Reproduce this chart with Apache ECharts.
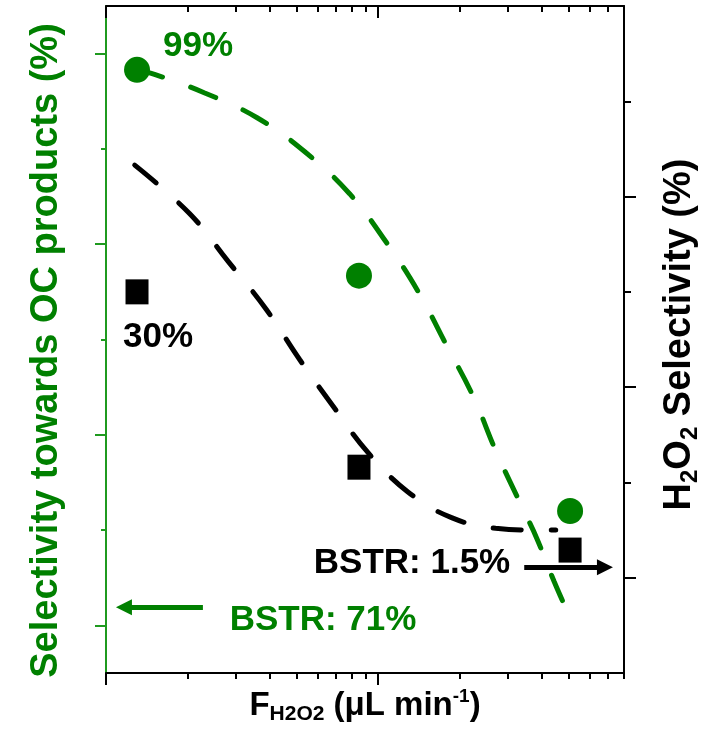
<!DOCTYPE html>
<html>
<head>
<meta charset="utf-8">
<script src="https://cdn.jsdelivr.net/npm/echarts@6/dist/echarts.min.js"></script>
<style>
  html, body { margin: 0; padding: 0; background: #fff; }
  #chart { width: 720px; height: 729px; }
</style>
</head>
<body>
<div id="chart"></div>
<script>
// measured points (x on log scale)
var flowRate = [1.3, 8.5, 50.7]
var ocSelectivity = [98.3, 76.7, 52.0]     // left axis, green circles
var h2o2Selectivity = [30.0, 11.6, 2.9]    // right axis, black squares

// dashed guide curves
var ocFitX = [1.294, 1.517, 2.294, 3.578, 5.377, 7.85, 10.71, 14.04, 17.82, 22.36, 27.15, 33.8, 38.3, 44.3, 50.7]
var ocFitY = [98.3, 97.8, 95.9, 93.3, 89.7, 85.3, 80.2, 75.0, 69.4, 64.0, 58.2, 52.4, 49.1, 44.6, 40.8]
var h2o2FitX = [1.275, 2.031, 2.81, 3.87, 5.145, 6.83, 9.13, 12.86, 18.6, 27.0, 40.3, 44.9]
var h2o2FitY = [43.3, 38.2, 33.2, 28.2, 22.9, 18.0, 13.2, 9.0, 6.3, 5.2, 5.0, 5.0]

// tick positions
var xMajorTicks = [1, 10]
var xMinorTicks = [2, 3, 4, 5, 6, 7, 8, 9, 20, 30, 40, 50, 60, 70, 80]
var leftMajorTicks = [40, 60, 80, 100]
var leftMinorTicks = [50, 70, 90]
var rightMajorTicks = [0, 20, 40]
var rightMinorTicks = [10, 30, 50]

var green = '#008000'
var axisGreen = '#1f9a1f'
var fontFamily = '"Liberation Sans", Arial, sans-serif'

function pairs(xs, ys) {
  return xs.map(function (x, i) { return [x, ys[i]] })
}

function xAxisDef(pos, ticks, len, inside, showLine, withName) {
  var ax = {
    type: 'log',
    logBase: 10,
    min: 1,
    max: 80,
    position: pos,
    axisLine: { show: showLine, onZero: false, lineStyle: { color: '#000', width: 2 } },
    axisTick: { show: true, customValues: ticks, length: len, inside: inside, lineStyle: { color: '#000', width: 2 } },
    minorTick: { show: false },
    axisLabel: { show: false },
    splitLine: { show: false }
  }
  if (withName) {
    ax.name = '{m|F}{s|H2O2}{m| (μL min}{u|-1}{m|)}'
    ax.nameLocation = 'middle'
    ax.nameGap = 14
    ax.nameTextStyle = {
      rich: {
        m: { fontSize: 33, fontWeight: 'bold', fontFamily: fontFamily, color: '#000', lineHeight: 34, verticalAlign: 'middle' },
        s: { fontSize: 21, fontWeight: 'bold', fontFamily: fontFamily, color: '#000', lineHeight: 38, verticalAlign: 'bottom' },
        u: { fontSize: 19, fontWeight: 'bold', fontFamily: fontFamily, color: '#000', lineHeight: 28, verticalAlign: 'top' }
      }
    }
  }
  return ax
}

function yAxisDef(pos, min, max, ticks, len, color, showLine) {
  return {
    type: 'value',
    min: min,
    max: max,
    position: pos,
    axisLine: { show: showLine, onZero: false, lineStyle: { color: color, width: 2 } },
    axisTick: { show: true, customValues: ticks, length: len, lineStyle: { color: color, width: 2 } },
    axisLabel: { show: false },
    splitLine: { show: false }
  }
}

var yLeft = yAxisDef('left', 35, 105, leftMajorTicks, 11, axisGreen, true)
yLeft.name = 'Selectivity towards OC products (%)'
yLeft.nameLocation = 'middle'
yLeft.nameRotate = 90
yLeft.nameGap = 40
yLeft.nameTextStyle = { fontSize: 38, fontWeight: 'bold', fontFamily: fontFamily, color: green, padding: [0, 22, 0, 0] }

var yRight = yAxisDef('right', -10, 60, rightMajorTicks, 12, '#000', true)
yRight.name = '{m|H}{s|2}{m|O}{s|2}{m| Selectivity (%)}'
yRight.nameLocation = 'middle'
yRight.nameRotate = 90
yRight.nameGap = 34
yRight.nameTextStyle = {
  padding: [0, 0, 0, 10],
  rich: {
    m: { fontSize: 38, fontWeight: 'bold', fontFamily: fontFamily, color: '#000', lineHeight: 42, verticalAlign: 'middle' },
    s: { fontSize: 24, fontWeight: 'bold', fontFamily: fontFamily, color: '#000', lineHeight: 44, verticalAlign: 'bottom' }
  }
}

var chart = echarts.init(document.getElementById('chart'))
chart.setOption({
  animation: false,
  backgroundColor: '#fff',
  grid: { left: 106, right: 96, top: 6, bottom: 56, containLabel: false, outerBoundsMode: 'none' },
  xAxis: [
    xAxisDef('bottom', xMajorTicks, 12, false, true, true),
    xAxisDef('bottom', xMinorTicks, 6, false, false, false),
    xAxisDef('top', xMajorTicks, 12, true, true, false),
    xAxisDef('top', xMinorTicks, 6, true, false, false)
  ],
  yAxis: [
    yLeft,
    yAxisDef('left', 35, 105, leftMinorTicks, 5, axisGreen, false),
    yRight,
    yAxisDef('right', -10, 60, rightMinorTicks, 7, '#000', false)
  ],
  series: [
    {
      type: 'line',
      name: 'OC fit',
      xAxisIndex: 0,
      yAxisIndex: 0,
      data: pairs(ocFitX, ocFitY),
      smooth: 0.4,
      showSymbol: false,
      silent: true,
      lineStyle: { color: green, width: 5, type: [27, 30], cap: 'round' },
      markLine: {
        silent: true,
        symbol: ['none', 'triangle'],
        symbolSize: [16, 16],
        label: { show: false },
        lineStyle: { color: green, width: 5, type: 'solid' },
        data: [[{ coord: [2.27, 41.9] }, { coord: [1.164, 41.9] }]]
      }
    },
    {
      type: 'line',
      name: 'H2O2 fit',
      xAxisIndex: 0,
      yAxisIndex: 2,
      data: pairs(h2o2FitX, h2o2FitY),
      smooth: 0.4,
      showSymbol: false,
      silent: true,
      lineStyle: { color: '#000', width: 5, type: [28, 30], cap: 'round' },
      markLine: {
        silent: true,
        symbol: ['none', 'triangle'],
        symbolSize: [16, 16],
        label: { show: false },
        lineStyle: { color: '#000', width: 5, type: 'solid' },
        data: [[{ coord: [34.4, 1.1] }, { coord: [68.1, 1.1] }]]
      }
    },
    {
      type: 'scatter',
      name: 'OC selectivity',
      xAxisIndex: 0,
      yAxisIndex: 0,
      symbol: 'circle',
      symbolSize: 26,
      itemStyle: { color: green, opacity: 1 },
      data: pairs(flowRate, ocSelectivity)
    },
    {
      type: 'scatter',
      name: 'H2O2 selectivity',
      xAxisIndex: 0,
      yAxisIndex: 2,
      symbol: 'rect',
      symbolSize: [23, 25],
      itemStyle: { color: '#000', opacity: 1 },
      data: pairs(flowRate, h2o2Selectivity)
    }
  ],
  graphic: [
    { type: 'text', x: 198, y: 46, style: { text: '99%', fill: green, font: 'bold 35px ' + fontFamily, textAlign: 'center', textVerticalAlign: 'middle', align: 'center', verticalAlign: 'middle' } },
    { type: 'text', x: 158, y: 337, style: { text: '30%', fill: '#000', font: 'bold 35px ' + fontFamily, textAlign: 'center', textVerticalAlign: 'middle', align: 'center', verticalAlign: 'middle' } },
    { type: 'text', x: 412, y: 563, style: { text: 'BSTR: 1.5%', fill: '#000', font: 'bold 35px ' + fontFamily, textAlign: 'center', textVerticalAlign: 'middle', align: 'center', verticalAlign: 'middle' } },
    { type: 'text', x: 323, y: 620, style: { text: 'BSTR: 71%', fill: green, font: 'bold 35px ' + fontFamily, textAlign: 'center', textVerticalAlign: 'middle', align: 'center', verticalAlign: 'middle' } }
  ]
})
</script>
</body>
</html>
